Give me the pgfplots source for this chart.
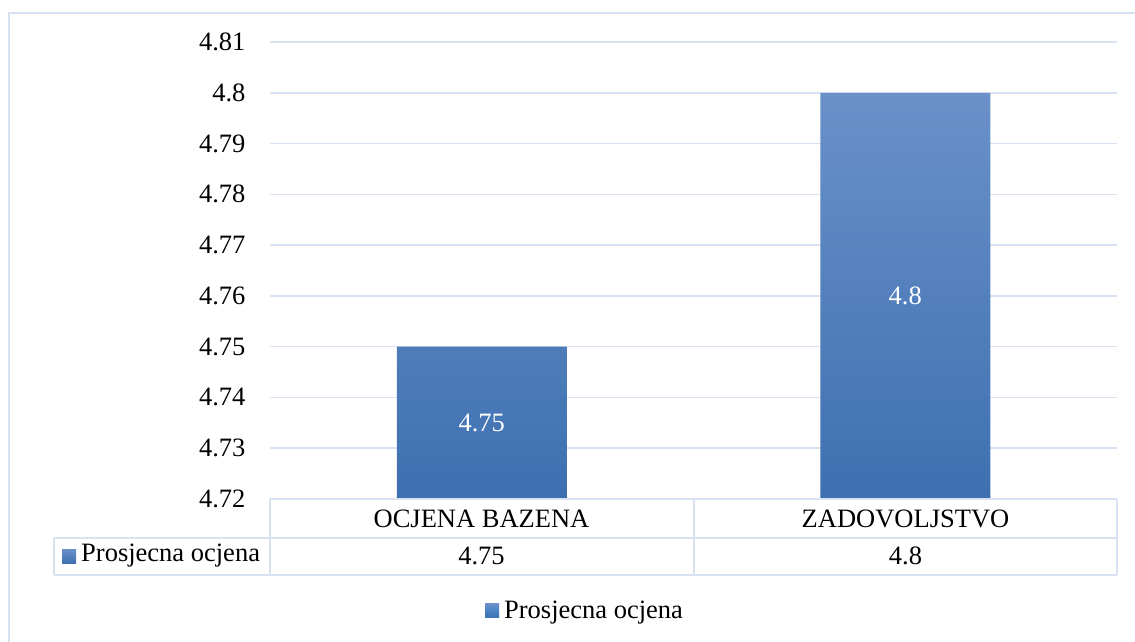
\documentclass[border=0pt]{standalone}
\usepackage{pgfplots}
\pgfplotsset{compat=1.18}
\usepackage{fontspec}
\setmainfont{Liberation Serif}
\definecolor{gridc}{RGB}{217,226,242}
\definecolor{framec}{RGB}{214,225,241}
\definecolor{bartop}{RGB}{106,145,200}
\definecolor{barmid}{RGB}{74,128,196}
\definecolor{barbot}{RGB}{61,112,177}
\newcommand{\bigfont}{\fontsize{26.5}{30}\selectfont}
\begin{document}
\begin{tikzpicture}[x=1pt,y=1pt]
\useasboundingbox (0,0) rectangle (1135,-642);
% outer frame
\draw[framec, line width=2pt] (8.5,-642) -- (8.5,-13) -- (1135,-13);
\begin{axis}[
  at={(270pt,-499pt)}, anchor=south west,
  scale only axis, width=847pt, height=457pt,
  xmin=-0.5, xmax=1.5,
  ymin=4.72, ymax=4.81,
  xtick=\empty,
  ytick={4.72,4.73,4.74,4.75,4.76,4.77,4.78,4.79,4.8,4.81},
  yticklabels={4.72,4.73,4.74,4.75,4.76,4.77,4.78,4.79,4.8,4.81},
  yticklabel style={font=\bigfont, xshift=-21pt},
  axis line style={draw=none},
  major tick length=0pt,
  ymajorgrids,
  grid style={color=gridc, line width=1.6pt},
  clip=false,
  legend style={at={(0.372,-0.245)}, anchor=center, draw=none, fill=none, font=\bigfont, inner sep=0pt,
    /tikz/every even column/.append style={column sep=0pt}},
  legend image code/.code={\shade[top color=bartop, bottom color=barbot, middle color=barmid] (0pt,-7pt) rectangle (14pt,7pt);},
]
\addplot[ybar, bar width=170pt, draw=none, top color=bartop, middle color=barmid, bottom color=barbot]
  coordinates {(0,4.75) (1,4.8)};
\addlegendentry{\hspace{3pt}Prosjecna ocjena}
\addplot[only marks, mark=none, forget plot, point meta=explicit symbolic,
  nodes near coords, nodes near coords style={anchor=center, font=\bigfont, text=white}]
  coordinates {(0,4.735)[4.75] (1,4.76)[4.8]};
\end{axis}
% data table
\draw[gridc, line width=2pt] (270,-499) -- (1117,-499);
\draw[gridc, line width=2pt] (54,-537.5) -- (1117,-537.5);
\draw[gridc, line width=2pt] (54,-575) -- (1117,-575);
\draw[gridc, line width=2pt] (54,-537.5) -- (54,-575);
\draw[gridc, line width=2pt] (270,-499) -- (270,-575);
\draw[gridc, line width=2pt] (693.5,-499) -- (693.5,-575);
\draw[gridc, line width=2pt] (1117,-499) -- (1117,-575);
\node[font=\bigfont] at (481.5,-519) {OCJENA BAZENA};
\node[font=\bigfont] at (905.5,-519) {ZADOVOLJSTVO};
\node[font=\bigfont] at (481.5,-556) {4.75};
\node[font=\bigfont] at (905.5,-556) {4.8};
\shade[top color=bartop, middle color=barmid, bottom color=barbot] (62,-549) rectangle (76,-563);
\node[font=\bigfont, anchor=west, inner sep=0pt] at (81,-556) {Prosjecna ocjena};
\end{tikzpicture}
\end{document}
